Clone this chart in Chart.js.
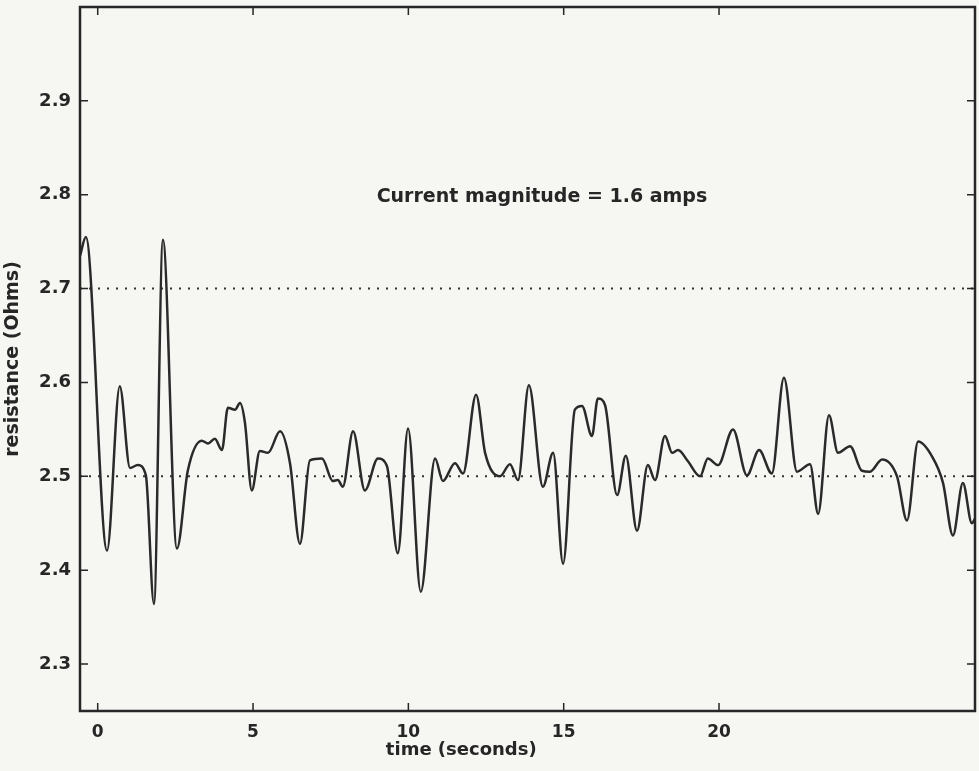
<!DOCTYPE html>
<html>
<head>
<meta charset="utf-8">
<script src="https://cdn.jsdelivr.net/npm/chart.js@4/dist/chart.umd.min.js"></script>
<style>
  html, body { margin: 0; padding: 0; background: #f6f6f3; }
  #wrap { width: 979px; height: 771px; }
</style>
</head>
<body>
<div id="wrap"><canvas id="resistance-chart" width="979" height="771"></canvas></div>
<script>
// data
const timeSec = [
  -0.57, -0.38, 0.30, 0.71, 1.04, 1.29, 1.55, 1.81, 2.10, 2.55,
  2.90, 3.35, 3.55, 3.77, 4.00, 4.19, 4.42, 4.58, 4.74, 4.96,
  5.22, 5.48, 5.87, 6.19, 6.51, 6.83, 7.22, 7.57, 7.73, 7.89,
  8.22, 8.60, 9.02, 9.31, 9.66, 9.99, 10.40, 10.86, 11.11, 11.50,
  11.76, 12.18, 12.47, 12.95, 13.27, 13.53, 13.88, 14.33, 14.66, 14.98,
  15.36, 15.59, 15.91, 16.10, 16.33, 16.72, 17.00, 17.36, 17.71, 17.94,
  18.26, 18.49, 18.68, 19.00, 19.39, 19.64, 19.97, 20.45, 20.90, 21.29,
  21.70, 22.09, 22.51, 22.93, 23.19, 23.54, 23.83, 24.22, 24.60, 24.86,
  25.25, 25.73, 26.05, 26.41, 26.86, 27.21, 27.53, 27.85, 28.14, 28.24
];
const resistance = [
  2.735, 2.755, 2.421, 2.596, 2.509, 2.512, 2.501, 2.364, 2.752, 2.423,
  2.506, 2.538, 2.535, 2.540, 2.528, 2.573, 2.571, 2.578, 2.557, 2.485,
  2.527, 2.525, 2.548, 2.514, 2.428, 2.517, 2.519, 2.495, 2.496, 2.489,
  2.548, 2.485, 2.519, 2.511, 2.418, 2.551, 2.377, 2.519, 2.495, 2.514,
  2.503, 2.587, 2.525, 2.500, 2.513, 2.496, 2.597, 2.489, 2.525, 2.407,
  2.571, 2.575, 2.543, 2.583, 2.576, 2.480, 2.522, 2.442, 2.512, 2.496,
  2.543, 2.525, 2.528, 2.516, 2.500, 2.519, 2.512, 2.550, 2.501, 2.528,
  2.503, 2.605, 2.505, 2.513, 2.460, 2.565, 2.525, 2.532, 2.506, 2.505,
  2.518, 2.500, 2.453, 2.537, 2.521, 2.493, 2.437, 2.493, 2.450, 2.455
];
const refLevels = [2.7, 2.5];
const xTicks = [0, 5, 10, 15, 20];
const yTicks = [2.3, 2.4, 2.5, 2.6, 2.7, 2.8, 2.9];
const xRange = [-0.57, 28.24];
const yRange = [2.25, 3.0];

const inkColor = '#262626';
const fontFamily = '"DejaVu Sans", "Liberation Sans", sans-serif';

// box round the plot with MATLAB-style inward ticks, the note and the x title
const boxPlugin = {
  id: 'box',
  afterDraw(chart) {
    const ctx = chart.ctx;
    const { left, right, top, bottom } = chart.chartArea;
    const x = chart.scales.x;
    const y = chart.scales.y;
    ctx.save();
    ctx.strokeStyle = inkColor;
    ctx.lineWidth = 2.5;
    ctx.strokeRect(left, top, right - left, bottom - top);
    ctx.lineWidth = 1.5;
    ctx.beginPath();
    xTicks.forEach(v => {
      const px = x.getPixelForValue(v);
      ctx.moveTo(px, bottom); ctx.lineTo(px, bottom - 8);
      ctx.moveTo(px, top); ctx.lineTo(px, top + 8);
    });
    yTicks.forEach(v => {
      const py = y.getPixelForValue(v);
      ctx.moveTo(left, py); ctx.lineTo(left + 8, py);
      ctx.moveTo(right, py); ctx.lineTo(right - 8, py);
    });
    ctx.stroke();

    ctx.fillStyle = inkColor;
    ctx.textAlign = 'center';
    ctx.textBaseline = 'middle';
    ctx.font = 'bold 19px ' + fontFamily;
    ctx.fillText('Current magnitude = 1.6 amps', x.getPixelForValue(14.3), y.getPixelForValue(2.798));
    ctx.font = 'bold 18px ' + fontFamily;
    ctx.fillText('time (seconds)', left + (right - left) * 0.426, 750);
    ctx.restore();
  }
};

const ctx = document.getElementById('resistance-chart').getContext('2d');

const config = {
  type: 'line',
  data: {
    datasets: [
      {
        data: timeSec.map((t, i) => ({ x: t, y: resistance[i] })),
        borderColor: '#2a2a2a',
        borderWidth: 2.5,
        pointRadius: 0,
        cubicInterpolationMode: 'monotone',
      },
      ...refLevels.map(level => ({
        data: [{ x: xRange[0], y: level }, { x: xRange[1], y: level }],
        borderColor: '#333',
        borderWidth: 2,
        borderDash: [2, 7],
        pointRadius: 0,
      })),
    ],
  },
  options: {
    responsive: false,
    animation: false,
    layout: { padding: { top: 7, right: 4, left: 0, bottom: 0 } },
    plugins: {
      legend: { display: false },
      tooltip: { enabled: false },
    },
    scales: {
      x: {
        type: 'linear',
        min: xRange[0],
        max: xRange[1],
        afterBuildTicks: s => { s.ticks = xTicks.map(v => ({ value: v })); },
        afterFit: s => { s.height = 60; s.paddingLeft = 0; s.paddingRight = 0; },
        grid: { display: false, drawTicks: false },
        border: { display: false },
        ticks: { color: inkColor, font: { family: fontFamily, size: 17, weight: 'bold' }, padding: 11, maxRotation: 0 },
      },
      y: {
        min: yRange[0],
        max: yRange[1],
        afterBuildTicks: s => { s.ticks = yTicks.map(v => ({ value: v })); },
        afterFit: s => { s.width = 80; s.paddingTop = 0; s.paddingBottom = 0; },
        grid: { display: false, drawTicks: false },
        border: { display: false },
        ticks: { color: inkColor, font: { family: fontFamily, size: 18, weight: 'bold' }, padding: 9, callback: v => v.toFixed(1) },
        title: {
          display: true,
          text: 'resistance (Ohms)',
          color: inkColor,
          font: { family: fontFamily, size: 19, weight: 'bold' },
          padding: { top: 2, bottom: 0 },
        },
      },
    },
  },
  plugins: [boxPlugin],
};

const resistanceChart = new Chart(ctx, config);
</script>
</body>
</html>
